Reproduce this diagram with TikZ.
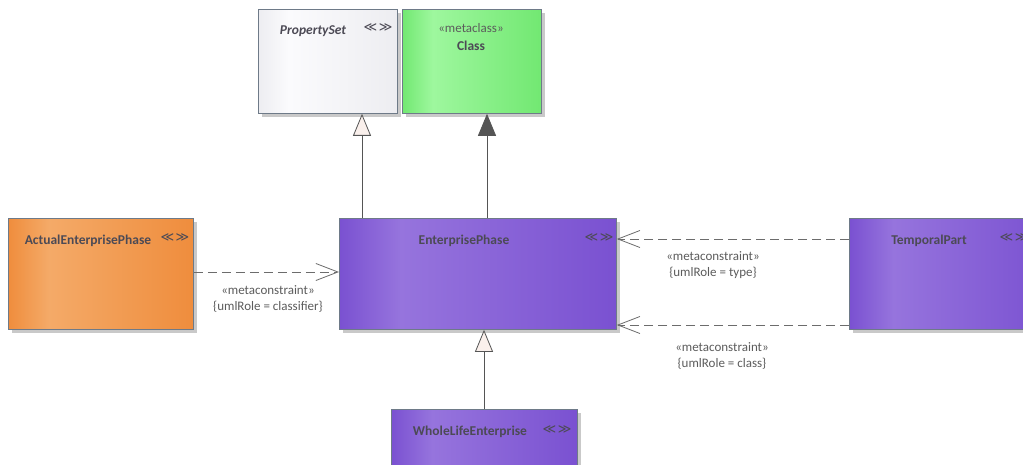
\documentclass[tikz,border=0pt]{standalone}
\usepackage{fontspec}
\setmainfont{Carlito}
\newfontfamily\symfont{DejaVu Sans}
\usetikzlibrary{arrows.meta,shadows,calc}
\definecolor{o1}{HTML}{EF8D3D}
\definecolor{o2}{HTML}{F4AA68}
\definecolor{p1}{HTML}{7A51D1}
\definecolor{p2}{HTML}{9674DD}
\definecolor{g1}{HTML}{72E872}
\definecolor{g2}{HTML}{9EF79E}
\definecolor{w1}{HTML}{EDEDF1}
\definecolor{w2}{HTML}{FBFBFD}
\definecolor{boxborder}{HTML}{6E7A88}
\definecolor{shadowc}{HTML}{C9C9C9}
\definecolor{titlec}{HTML}{4C4A55}
\definecolor{labelc}{HTML}{5C5C5C}
\definecolor{linec}{HTML}{555555}
\definecolor{dashc}{HTML}{6C6C6C}
\definecolor{genfill}{HTML}{FAF0EC}
\pgfdeclarehorizontalshading{orangesh}{100bp}{color(0bp)=(o1); color(25bp)=(o1); color(36bp)=(o2); color(75bp)=(o1); color(100bp)=(o1)}
\pgfdeclarehorizontalshading{purplesh}{100bp}{color(0bp)=(p1); color(25bp)=(p1); color(36bp)=(p2); color(75bp)=(p1); color(100bp)=(p1)}
\pgfdeclarehorizontalshading{greensh}{100bp}{color(0bp)=(g1); color(25bp)=(g1); color(36bp)=(g2); color(75bp)=(g1); color(100bp)=(g1)}
\pgfdeclarehorizontalshading{whitesh}{100bp}{color(0bp)=(w1); color(25bp)=(w1); color(36bp)=(w2); color(75bp)=(w1); color(100bp)=(w1)}
\begin{document}
\begin{tikzpicture}[x=1pt,y=-1pt,
  box/.style={draw=boxborder, line width=0.8pt, rectangle, inner sep=0pt, anchor=north west,
    drop shadow={shadow xshift=4pt, shadow yshift=-4pt, fill=shadowc, opacity=1}},
  title/.style={font=\bfseries\fontsize{13.5}{16}\selectfont, text=titlec, inner sep=0pt},
  icon/.style={font=\symfont\fontsize{13}{16}\selectfont, text=titlec, inner sep=0pt},
  lbl/.style={font=\fontsize{13}{15}\selectfont, text=labelc, inner sep=0pt},
  gen/.style={draw=linec, line width=0.8pt, -{Triangle[open,length=22pt,width=18pt,fill=genfill]}},
  realz/.style={draw=linec, line width=0.8pt, -{Triangle[length=22pt,width=18pt,fill=linec]}},
  dep/.style={draw=dashc, line width=0.9pt, dash pattern=on 9pt off 5pt, -{Straight Barb[length=22pt,width=17pt,line width=0.8pt]}}
]
\clip (0,0) rectangle (1023,465);
\fill[white] (0,0) rectangle (1023,465);
% boxes
\node[box, shading=whitesh, minimum width=139pt, minimum height=104pt] (ps) at (258,9) {};
\node[box, shading=greensh, minimum width=139pt, minimum height=104pt] (cl) at (402,9) {};
\node[box, shading=orangesh, minimum width=185pt, minimum height=111pt] (act) at (8,218) {};
\node[box, shading=purplesh, minimum width=277pt, minimum height=111pt] (ep) at (339,218) {};
\node[box, shading=purplesh, minimum width=200pt, minimum height=111pt] (tp) at (849,218) {};
\node[box, shading=purplesh, minimum width=186pt, minimum height=80pt] (wle) at (391,409) {};
% titles
\node[title] (psT) at (313,31) {\itshape PropertySet};
\node[icon] (psI) at (378,28) {≪\hspace{1.5pt}≫};
\node[lbl] (clS) at (471,28) {«metaclass»};
\node[title] (clT) at (471,46) {Class};
\node[title] (actT) at (88,241) {ActualEnterprisePhase};
\node[icon] (actI) at (175,238) {≪\hspace{1.5pt}≫};
\node[title] (epT) at (464,241) {EnterprisePhase};
\node[icon] (epI) at (599,238) {≪\hspace{1.5pt}≫};
\node[title] (tpT) at (929,241) {TemporalPart};
\node[icon] (tpI) at (1014,238) {≪\hspace{1.5pt}≫};
\node[title] (wleT) at (470,432) {WholeLifeEnterprise};
\node[icon] (wleI) at (557,430) {≪\hspace{1.5pt}≫};
% connectors
\coordinate (a1) at ([xshift=23pt]ep.north west);
\draw[gen] (a1) -- (a1 |- ps.south);
\coordinate (a2) at ([xshift=148pt]ep.north west);
\draw[realz] (a2) -- (a2 |- cl.south);
\coordinate (a3) at ([xshift=93pt]wle.north west);
\draw[gen] (a3) -- (a3 |- ep.south);
\coordinate (d1) at ([yshift=-54pt]act.north east);
\draw[dep] (d1) -- (d1 -| ep.west);
\coordinate (d2) at ([yshift=-21pt]tp.north west);
\draw[dep] (d2) -- (d2 -| ep.east);
\coordinate (d3) at ([yshift=-107pt]tp.north west);
\draw[dep] (d3) -- (d3 -| ep.east);
% labels
\node[lbl] (l1a) at (268,290) {«metaconstraint»};
\node[lbl] (l1b) at (268,307) {\{umlRole = classifier\}};
\node[lbl] (l2a) at (713,256) {«metaconstraint»};
\node[lbl] (l2b) at (713,273) {\{umlRole = type\}};
\node[lbl] (l3a) at (722,347) {«metaconstraint»};
\node[lbl] (l3b) at (722,364) {\{umlRole = class\}};
\end{tikzpicture}
\end{document}
